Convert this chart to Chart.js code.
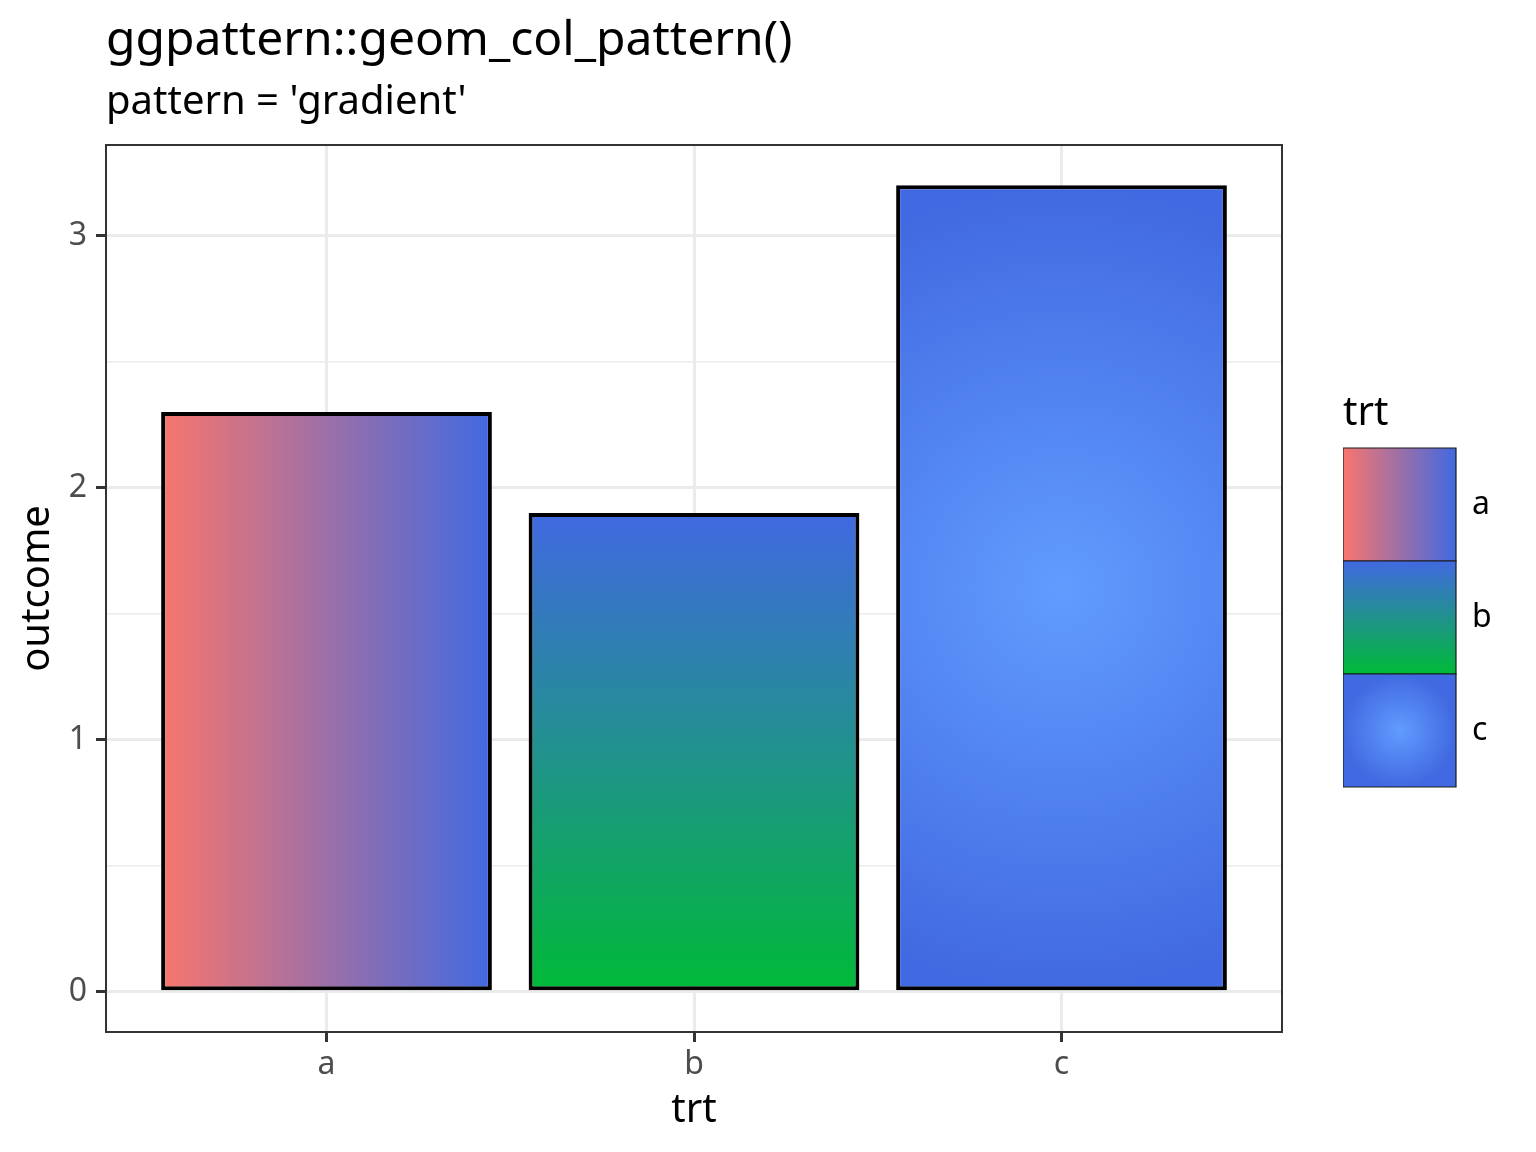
<!DOCTYPE html>
<html lang="en">
<head>
<meta charset="UTF-8">
<title>ggpattern::geom_col_pattern()</title>
<script src="https://cdn.jsdelivr.net/npm/chart.js"></script>
<style>
  html, body { margin: 0; padding: 0; background: #fff; }
  canvas { display: block; }
</style>
</head>
<body>
<canvas id="chart" width="1536" height="1152"></canvas>
<script>
// data
const trt = ['a', 'b', 'c'];
const outcome = [2.3, 1.9, 3.2];
const yMajor = [0, 1, 2, 3];
const yMinor = [0.5, 1.5, 2.5];

// gradient colours: fill -> pattern_fill2 (royalblue)
const fill1 = ['#F8766D', '#00BA38', '#619CFF'];
const fill2 = '#4169E1';
const orientation = ['horizontal', 'vertical', 'radial'];

Chart.defaults.font.family = "'Noto Sans', sans-serif";

function gradientFor(ctx, i, left, top, right, bottom) {
  let g;
  if (orientation[i] === 'horizontal') {
    g = ctx.createLinearGradient(left, 0, right, 0);
  } else if (orientation[i] === 'vertical') {
    g = ctx.createLinearGradient(0, bottom, 0, top);
  } else {
    const cx = (left + right) / 2, cy = (top + bottom) / 2;
    const r = Math.max(right - left, bottom - top) / 2;
    g = ctx.createRadialGradient(cx, cy, 0, cx, cy, r);
  }
  g.addColorStop(0, fill1[i]);
  g.addColorStop(1, fill2);
  return g;
}

// gradient for each bar, built from the scales
function barFill(c) {
  const chart = c.chart;
  const i = c.dataIndex;
  if (i === undefined) return fill2;
  if (!chart.chartArea) return fill1[i];
  const xs = chart.scales.x, ys = chart.scales.y;
  const mid = xs.getPixelForValue(i + 1);
  const half = 0.45 * (xs.getPixelForValue(2) - xs.getPixelForValue(1));
  return gradientFor(chart.ctx, i, mid - half, ys.getPixelForValue(outcome[i]), mid + half, ys.getPixelForValue(0));
}

const panelBorder = {
  id: 'panelBorder',
  afterDatasetsDraw(chart) {
    const {ctx, chartArea: a} = chart;
    ctx.save();
    ctx.strokeStyle = '#333333';
    ctx.lineWidth = 2;
    ctx.strokeRect(a.left, a.top, a.right - a.left, a.bottom - a.top);
    ctx.restore();
  }
};

// legend keys get the same gradients, placed on their boxes
const keyFill = {
  id: 'keyFill',
  beforeDraw(chart) {
    const lg = chart.legend;
    if (!lg || !lg.legendItems || !lg.legendHitBoxes) return;
    const size = chart.options.plugins.legend.labels.boxWidth;
    lg.legendItems.forEach((item, i) => {
      const hb = lg.legendHitBoxes[i];
      if (hb) item.fillStyle = gradientFor(chart.ctx, i, hb.left, hb.top, hb.left + size, hb.top + size);
    });
  }
};

new Chart(document.getElementById('chart'), {
  type: 'bar',
  data: {
    datasets: [{
      label: 'outcome',
      data: trt.map((t, i) => ({x: i + 1, y: outcome[i]})),
      backgroundColor: barFill,
      borderColor: '#000000',
      borderWidth: 4,
      borderSkipped: false,
      categoryPercentage: 0.9,
      barPercentage: 1.0
    }]
  },
  options: {
    responsive: false,
    animation: false,
    layout: {padding: {left: 0, right: 43, top: 0, bottom: 0}},
    scales: {
      x: {
        type: 'linear', min: 0.4, max: 3.6, offset: false,
        afterBuildTicks: s => { s.ticks = trt.map((t, i) => ({value: i + 1})); },
        afterFit: s => { s.height = 120; },
        grid: {offset: false, color: '#EBEBEB', lineWidth: 3, tickColor: '#333333', tickWidth: 3, tickLength: 10},
        border: {display: false},
        ticks: {
          callback: v => trt[v - 1], color: '#4D4D4D', autoSkip: false, maxRotation: 0,
          font: {size: 32, lineHeight: 1}, padding: 7
        },
        title: {display: true, text: 'trt', color: '#000000', font: {size: 40, lineHeight: 1}, padding: {top: 0, bottom: 21}}
      },
      y: {
        type: 'linear', min: -0.16, max: 3.36,
        afterBuildTicks: s => { s.ticks = yMajor.concat(yMinor).sort((p, q) => p - q).map(v => ({value: v})); },
        afterFit: s => { s.width = 106; },
        grid: {
          color: '#EBEBEB',
          lineWidth: c => yMajor.includes(c.tick.value) ? 3 : 1.5,
          tickColor: c => yMajor.includes(c.tick.value) ? '#333333' : 'rgba(0,0,0,0)',
          tickWidth: 3, tickLength: 10
        },
        border: {display: false},
        ticks: {
          callback: v => yMajor.includes(v) ? String(v) : '', color: '#4D4D4D', autoSkip: false,
          font: {size: 32, lineHeight: 1}, padding: 9
        },
        title: {display: true, text: 'outcome', color: '#000000', font: {size: 40, lineHeight: 1}, padding: {top: 18, bottom: 0}}
      },
      gap: {
        axis: 'y', type: 'linear', position: 'right', display: true,
        grid: {display: false, drawTicks: false}, ticks: {display: false}, border: {display: false},
        afterFit: s => { s.width = 61; }
      }
    },
    plugins: {
      title: {
        display: true, text: 'ggpattern::geom_col_pattern()', align: 'start', fullSize: false, color: '#000000',
        font: {size: 48, weight: 'normal', lineHeight: 1}, padding: {top: 17, bottom: 0}
      },
      subtitle: {
        display: true, text: "pattern = 'gradient'", align: 'start', fullSize: false, color: '#000000',
        font: {size: 40, weight: 'normal', lineHeight: 1}, padding: {top: 18, bottom: 22}
      },
      legend: {
        display: true, position: 'right', align: 'center', fullSize: false, maxWidth: 150,
        onClick: null,
        title: {display: true, text: 'trt', position: 'start', color: '#000000', font: {size: 40, lineHeight: 1}, padding: {top: 4, bottom: 14}},
        labels: {
          boxWidth: 113, boxHeight: 113, padding: 0, color: '#000000', font: {size: 32, lineHeight: 1},
          generateLabels: () => trt.map((t, i) => ({
            text: t, fillStyle: fill1[i], strokeStyle: '#1A1A1A', lineWidth: 1.2,
            hidden: false, index: i, datasetIndex: 0
          }))
        }
      },
      tooltip: {enabled: false}
    }
  },
  plugins: [panelBorder, keyFill]
});
</script>
</body>
</html>
